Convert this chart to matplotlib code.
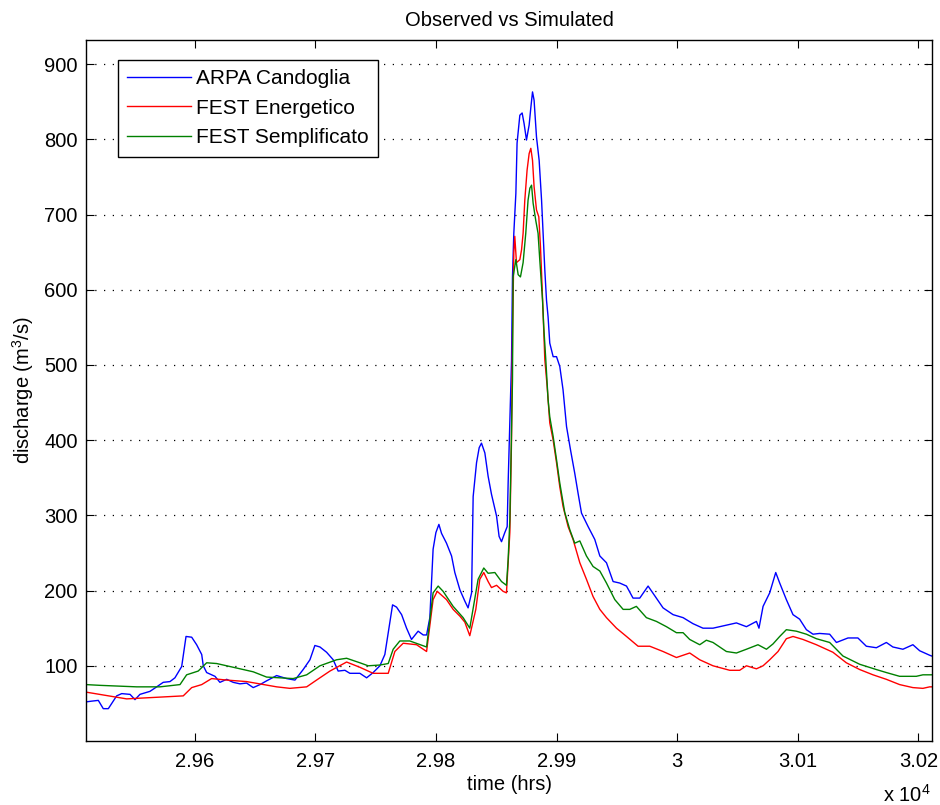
import matplotlib
matplotlib.use('Agg')
import matplotlib.pyplot as plt
from matplotlib.ticker import FuncFormatter

plt.rcParams['font.family'] = ['Liberation Sans', 'DejaVu Sans']
plt.rcParams['mathtext.default'] = 'regular'
plt.rcParams['font.size'] = 14.5

# observed discharge, ARPA Candoglia gauge (hours, m3/s)
t_obs = [29510.0, 29514.7, 29520.2, 29524.3, 29528.5, 29535.4, 29539.6, 29546.5, 29550.6, 29554.7,
         29563.0, 29568.6, 29574.0, 29579.6, 29583.7, 29589.3, 29592.9, 29597.6, 29601.7, 29605.9,
         29607.2, 29610.0, 29616.9, 29621.0, 29626.6, 29632.0, 29637.6, 29643.1, 29648.6, 29654.2,
         29659.7, 29668.0, 29676.3, 29683.2, 29690.0, 29695.6, 29699.7, 29703.9, 29709.4, 29714.9,
         29719.0, 29724.6, 29728.7, 29737.0, 29742.6, 29748.0, 29753.6, 29757.7, 29760.5, 29764.1,
         29767.4, 29771.6, 29775.7, 29779.8, 29785.3, 29789.5, 29792.3, 29795.0, 29797.7, 29800.0,
         29802.5, 29804.7, 29808.8, 29813.0, 29815.7, 29819.9, 29824.0, 29826.7, 29829.6, 29830.9,
         29833.7, 29835.9, 29837.8, 29840.6, 29843.3, 29846.1, 29850.3, 29852.4, 29854.4, 29857.1,
         29859.1, 29859.9, 29861.3, 29862.7, 29863.5, 29864.6, 29866.3, 29867.3, 29869.6, 29871.5,
         29873.1, 29875.1, 29877.3, 29878.7, 29880.1, 29881.4, 29883.4, 29885.6, 29887.6, 29888.9,
         29890.3, 29891.7, 29893.0, 29894.4, 29897.2, 29900.0, 29902.7, 29905.4, 29908.3, 29911.6,
         29915.1, 29917.9, 29920.7, 29926.2, 29931.7, 29935.9, 29941.4, 29946.9, 29952.4, 29958.0,
         29963.4, 29969.0, 29975.9, 29982.8, 29988.3, 29996.6, 30004.9, 30013.1, 30021.4, 30029.7,
         30038.0, 30049.1, 30057.4, 30065.7, 30067.8, 30071.2, 30076.7, 30081.7, 30085.0, 30090.5,
         30096.0, 30101.5, 30107.1, 30112.6, 30118.1, 30126.4, 30132.0, 30141.6, 30149.8, 30156.8,
         30165.1, 30173.4, 30178.8, 30187.1, 30195.4, 30201.0, 30209.3, 30211.0]
q_obs = [52, 53, 54, 43, 43, 60, 63, 62, 55, 62,
         66, 72, 78, 79, 84, 99, 139, 138, 128, 115,
         100, 91, 86, 78, 82, 78, 76, 77, 71, 75,
         80, 87, 83, 81, 95, 108, 127, 125, 118, 108,
         93, 94, 90, 90, 84, 91, 100, 115, 144, 181,
         178, 168, 150, 135, 146, 141, 141, 164, 255, 277,
         288, 276, 263, 246, 224, 201, 186, 177, 197, 325,
         370, 390, 396, 383, 352, 328, 299, 272, 265, 277,
         285, 343, 423, 505, 617, 675, 728, 795, 832, 835,
         821, 799, 819, 842, 863, 852, 803, 772, 719, 675,
         626, 586, 564, 529, 511, 511, 498, 467, 418, 387,
         356, 329, 303, 285, 268, 246, 237, 212, 210, 206,
         190, 190, 206, 190, 177, 168, 164, 156, 150, 150,
         153, 157, 152, 159, 150, 179, 197, 224, 210, 188,
         168, 162, 148, 142, 143, 142, 131, 137, 137, 126,
         124, 131, 125, 122, 128, 120, 114, 113]

# FEST, energy-balance version
t_energ = [29510.0, 29543.7, 29590.6, 29597.6, 29605.9, 29614.1, 29626.6, 29643.1, 29668.0, 29679.0,
           29692.9, 29701.1, 29712.2, 29726.0, 29737.0, 29748.0, 29760.5, 29766.0, 29772.9, 29784.0,
           29792.3, 29797.7, 29801.1, 29808.8, 29814.3, 29819.9, 29824.0, 29828.1, 29833.1, 29836.4,
           29839.7, 29843.3, 29846.1, 29850.3, 29855.7, 29858.5, 29859.9, 29861.3, 29862.7, 29863.5,
           29864.6, 29865.4, 29866.8, 29869.6, 29871.0, 29872.3, 29873.7, 29875.6, 29877.3, 29878.7,
           29880.1, 29881.4, 29883.4, 29885.3, 29886.7, 29887.6, 29888.9, 29890.3, 29892.2, 29894.4,
           29897.2, 29900.0, 29902.7, 29905.4, 29909.6, 29913.7, 29919.3, 29924.8, 29930.3, 29935.9,
           29941.4, 29949.7, 29958.0, 29967.6, 29977.3, 29988.3, 29999.4, 30010.4, 30018.7, 30029.7,
           30043.6, 30051.8, 30057.4, 30065.7, 30071.2, 30076.7, 30083.6, 30090.5, 30096.0, 30104.3,
           30115.4, 30129.1, 30140.2, 30151.3, 30162.3, 30173.4, 30184.4, 30195.4, 30203.7, 30209.3,
           30211.0]
q_energ = [65, 56, 60, 71, 75, 83, 81, 79, 72, 70,
           72, 81, 93, 105, 98, 90, 90, 119, 130, 128,
           119, 188, 199, 188, 175, 166, 158, 140, 175, 215,
           224, 212, 204, 207, 199, 197, 237, 277, 400, 538,
           649, 671, 636, 640, 653, 675, 719, 759, 781, 788,
           772, 737, 706, 697, 657, 622, 568, 507, 472, 423,
           400, 370, 338, 312, 285, 268, 237, 215, 192, 175,
           164, 150, 139, 126, 126, 119, 111, 117, 108, 100,
           94, 94, 100, 96, 100, 108, 119, 136, 139, 135,
           128, 118, 104, 95, 88, 82, 75, 71, 70, 72,
           72]

# FEST, simplified version
t_sempl = [29510.0, 29521.6, 29552.0, 29571.3, 29587.9, 29593.4, 29603.0, 29610.0, 29618.3, 29634.9,
           29648.6, 29659.7, 29670.7, 29681.7, 29692.9, 29703.9, 29717.7, 29726.0, 29737.0, 29743.9,
           29753.6, 29760.5, 29764.6, 29770.1, 29778.4, 29792.3, 29797.7, 29801.9, 29806.0, 29814.3,
           29822.6, 29828.1, 29835.0, 29839.7, 29843.3, 29848.9, 29854.4, 29858.5, 29859.9, 29861.3,
           29863.5, 29864.0, 29866.3, 29868.2, 29870.1, 29872.3, 29874.5, 29876.4, 29877.9, 29879.3,
           29880.6, 29882.8, 29884.7, 29886.1, 29888.4, 29889.4, 29891.1, 29893.0, 29894.4, 29897.2,
           29900.0, 29902.7, 29906.8, 29911.0, 29915.1, 29919.3, 29924.8, 29930.3, 29935.9, 29941.4,
           29948.3, 29955.2, 29960.7, 29966.2, 29974.5, 29982.8, 29991.1, 29999.4, 30004.9, 30010.4,
           30018.7, 30024.2, 30029.7, 30040.8, 30049.1, 30057.4, 30067.0, 30074.0, 30079.4, 30085.0,
           30090.5, 30098.8, 30107.1, 30115.4, 30126.4, 30137.4, 30151.3, 30165.1, 30173.4, 30184.4,
           30198.2, 30203.7, 30209.3, 30211.0]
q_sempl = [75, 74, 72, 72, 75, 88, 93, 104, 103, 97,
           92, 85, 84, 83, 88, 100, 108, 110, 104, 100,
           101, 103, 122, 133, 133, 125, 197, 206, 199, 179,
           164, 150, 215, 230, 223, 224, 212, 207, 241, 294,
           480, 617, 640, 620, 617, 636, 675, 719, 735, 739,
           715, 692, 675, 640, 586, 551, 507, 454, 431, 405,
           374, 343, 304, 281, 263, 266, 246, 232, 226, 210,
           188, 175, 175, 179, 164, 159, 152, 144, 144, 135,
           128, 134, 131, 119, 117, 122, 128, 122, 129, 139,
           148, 146, 142, 136, 131, 113, 102, 95, 91, 86,
           86, 88, 88, 88]

series_names = ['ARPA Candoglia', 'FEST Energetico', 'FEST Semplificato']
x_ticks = [29600, 29700, 29800, 29900, 30000, 30100, 30200]
y_ticks = [100, 200, 300, 400, 500, 600, 700, 800, 900]

fig = plt.figure(figsize=(9.4, 8.05), dpi=100)
ax = fig.add_axes([0.0915, 0.0795, 0.8997, 0.8708])

ax.plot(t_obs, q_obs, color=(0, 0, 1), lw=1.0, label=series_names[0])
ax.plot(t_energ, q_energ, color=(1, 0, 0), lw=1.0, label=series_names[1])
ax.plot(t_sempl, q_sempl, color=(0, 0.5, 0), lw=1.0, label=series_names[2])

ax.set_xlim(29510, 30211)
ax.set_ylim(0, 932)
ax.set_xticks(x_ticks)
ax.set_yticks(y_ticks)
ax.xaxis.set_major_formatter(FuncFormatter(lambda v, p: '%g' % (v / 1e4)))

ax.yaxis.grid(True, color='k', linestyle=(0, (1, 6)), linewidth=0.9)
ax.tick_params(direction='in', length=6, width=0.8, top=True, right=True,
               labelsize=14.5, colors='k')
ax.tick_params(axis='x', pad=8)
ax.tick_params(axis='y', pad=6)
for s in ax.spines.values():
    s.set_linewidth(1.0)
    s.set_color('k')

fig.text(0.5415, 1 - 20 / 805, 'Observed vs Simulated', ha='center', va='center')
fig.text(0.5425, 1 - 784 / 805, 'time (hrs)', ha='center', va='center')
fig.text(0.024, 1 - 390 / 805, 'discharge (m$^3$/s)', ha='center', va='center', rotation=90)
fig.text(0.939, 1 - 795 / 805, 'x 10$^4$', ha='left', va='center')

leg = ax.legend(loc='upper left', bbox_to_anchor=(0.0378, 0.9715), borderaxespad=0,
                fancybox=False, framealpha=1, edgecolor='k', fontsize=15,
                handlelength=3.05, handletextpad=0.25, labelspacing=0.5, borderpad=0.45)
leg.get_frame().set_linewidth(1.0)

fig.savefig('out.png', dpi=100)
